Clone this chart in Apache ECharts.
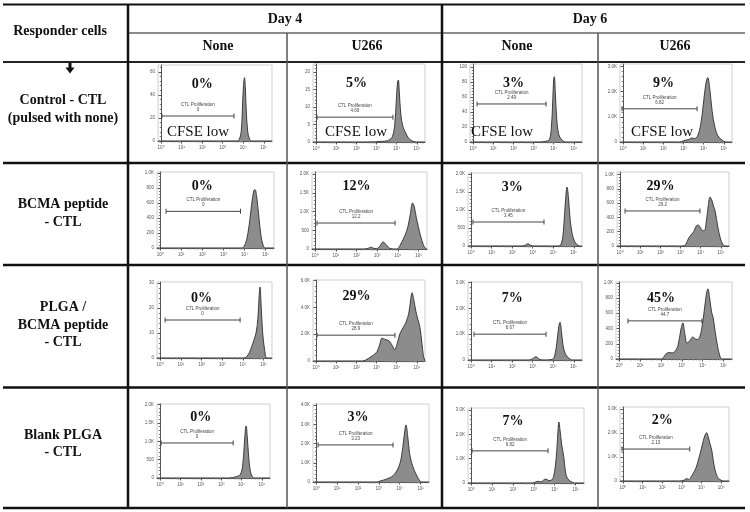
<!DOCTYPE html>
<html><head><meta charset="utf-8">
<script src="https://cdn.jsdelivr.net/npm/echarts@6/dist/echarts.min.js"></script>
<style>html,body{margin:0;padding:0;background:#fff}#c{width:750px;height:512px}</style>
</head><body><div id="c"></div>
<script>
// ---------- DATA ----------
const dayLabels = ['Day 4', 'Day 6'];
const stimLabels = ['None', 'U266', 'None', 'U266'];
const rowLabels = [['Control - CTL', '(pulsed with none)'], ['BCMA peptide', '- CTL'], ['PLGA /', 'BCMA peptide', '- CTL'], ['Blank PLGA', '- CTL']];
const pctLabels = ['0%', '5%', '3%', '9%', '0%', '12%', '3%', '29%', '0%', '29%', '7%', '45%', '0%', '3%', '7%', '2%'];
const gateValues = ['0', '4.69', '2.49', '6.82', '0', '12.2', '3.45', '29.2', '0', '28.9', '6.67', '44.7', '0', '3.23', '6.82', '2.13'];
// gate: [start decade, end decade, count level]
const gateStart = [0.04, 0.05, 0.2, -0.05, 0.28, 0.09, 0.09, 0.25, 0.24, 0.05, 0.14, 0.42, 0.05, 0.09, 0.04, -0.05];
const gateEnd = [3.55, 3.81, 3.62, 3.67, 3.81, 3.86, 3.55, 3.96, 3.86, 3.91, 3.65, 3.96, 3.59, 3.68, 3.68, 3.4];
const gateLevel = [21.7, 7.1, 50.7, 1320, 487, 695, 667, 490, 15.2, 1930, 1000, 500, 956, 1930, 1320, 1330];
// y axis: max and tick values
const yMax = [66, 22.3, 104, 3100, 1010, 2060, 2030, 1035, 30.4, 6050, 3020, 1010, 2020, 4060, 3080, 3080];
const yTicks = [
  [0, 20, 40, 60], [0, 5, 10, 15, 20], [0, 20, 40, 60, 80, 100], [0, 1000, 2000, 3000],
  [0, 200, 400, 600, 800, 1000], [0, 500, 1000, 1500, 2000], [0, 500, 1000, 1500, 2000], [0, 200, 400, 600, 800, 1000],
  [0, 10, 20, 30], [0, 2000, 4000, 6000], [0, 1000, 2000, 3000], [0, 200, 400, 600, 800, 1000],
  [0, 500, 1000, 1500, 2000], [0, 1000, 2000, 3000, 4000], [0, 1000, 2000, 3000], [0, 1000, 2000, 3000]
];
const xTickDecades = [0, 1, 2, 3, 4, 5];
// histograms: [CFSE decade, count]
const h11 = [[-0.15,0],[3.7,0],[3.8,1],[3.9,8],[3.96,28],[4.01,48],[4.06,55],[4.1,47],[4.15,25],[4.22,8],[4.3,2],[4.4,0],[5.4,0]];
const h12 = [[-0.15,0],[2.5,0],[3.3,0.2],[3.6,0.5],[3.78,1.5],[3.9,5],[3.98,12],[4.04,17.2],[4.08,17.7],[4.13,14],[4.2,8],[4.3,4.5],[4.45,2.5],[4.6,1],[4.8,0.2],[5.0,0],[5.4,0]];
const h13 = [[-0.15,0],[3.3,0],[3.6,1],[3.78,3],[3.88,18],[3.95,55],[4.0,85],[4.03,87],[4.08,65],[4.15,30],[4.25,10],[4.4,3],[4.6,0],[5.4,0]];
const h14 = [[-0.15,0],[2.8,0],[3.0,50],[3.25,100],[3.42,160],[3.55,140],[3.7,250],[3.85,700],[3.98,1500],[4.1,2300],[4.2,2560],[4.3,2100],[4.42,1200],[4.55,600],[4.7,250],[4.9,80],[5.1,0],[5.4,0]];
const h21 = [[-0.15,0],[3.85,0],[3.98,20],[4.1,110],[4.22,300],[4.34,580],[4.44,760],[4.5,776],[4.58,680],[4.68,420],[4.78,170],[4.88,40],[4.98,0],[5.4,0]];
const h22 = [[-0.15,0],[2.3,0],[2.55,15],[2.68,50],[2.82,20],[2.95,8],[3.1,60],[3.28,190],[3.45,100],[3.6,20],[3.8,0],[3.95,0],[4.1,100],[4.25,260],[4.35,380],[4.48,600],[4.6,950],[4.7,1230],[4.78,1150],[4.88,850],[4.98,600],[5.1,330],[5.22,120],[5.32,20],[5.4,0]];
const h23 = [[-0.15,0],[2.5,0],[2.65,30],[2.77,60],[2.9,20],[3.05,0],[4.25,0],[4.4,80],[4.5,450],[4.6,1300],[4.67,1640],[4.74,1350],[4.82,750],[4.92,350],[5.02,150],[5.15,40],[5.3,0],[5.4,0]];
const h24 = [[-0.15,0],[3.1,0],[3.25,20],[3.4,110],[3.5,150],[3.65,200],[3.78,280],[3.87,295],[3.98,260],[4.1,215],[4.18,215],[4.28,350],[4.38,580],[4.46,685],[4.55,640],[4.63,560],[4.72,480],[4.85,260],[4.98,100],[5.08,30],[5.2,0],[5.4,0]];
const h31 = [[-0.15,0],[4.05,0],[4.24,1.2],[4.35,3],[4.48,6],[4.63,10],[4.72,16],[4.78,25],[4.82,28.4],[4.87,22],[4.95,10],[5.05,3],[5.15,0],[5.4,0]];
const h32 = [[-0.15,0],[2.3,0],[2.6,200],[2.85,450],[3.02,700],[3.15,1200],[3.27,1700],[3.45,1600],[3.62,1500],[3.78,1150],[3.9,850],[4.02,1300],[4.16,2050],[4.32,2500],[4.46,2900],[4.6,3600],[4.7,4700],[4.76,5100],[4.84,4600],[4.95,3700],[5.05,3100],[5.15,2500],[5.25,1300],[5.32,400],[5.4,0]];
const h33 = [[-0.15,0],[2.8,0],[3.0,50],[3.16,130],[3.3,40],[3.5,0],[3.95,20],[4.08,200],[4.18,700],[4.27,1300],[4.33,1460],[4.4,1100],[4.48,550],[4.6,220],[4.75,80],[4.95,0],[5.4,0]];
const h34 = [[-0.15,0],[2.0,0],[2.12,20],[2.25,70],[2.4,85],[2.55,80],[2.7,110],[2.82,180],[2.95,380],[3.05,474],[3.13,350],[3.25,210],[3.38,240],[3.53,290],[3.63,265],[3.73,255],[3.87,300],[3.98,450],[4.08,650],[4.18,860],[4.25,921],[4.32,820],[4.42,620],[4.5,540],[4.6,350],[4.72,150],[4.82,40],[4.9,0],[5.4,0]];
const h41 = [[-0.15,0],[3.3,0],[3.55,10],[3.75,40],[3.93,90],[4.05,300],[4.13,850],[4.2,1380],[4.23,1420],[4.28,1150],[4.35,600],[4.43,200],[4.52,50],[4.62,0],[5.4,0]];
const h42 = [[-0.15,0],[2.9,0],[3.06,50],[3.38,160],[3.68,330],[3.93,730],[4.08,1300],[4.2,2300],[4.3,2970],[4.38,2400],[4.47,1500],[4.57,1000],[4.7,600],[4.84,280],[4.95,80],[5.05,0],[5.4,0]];
const h43 = [[-0.15,0],[2.9,0],[3.05,30],[3.2,70],[3.35,50],[3.5,140],[3.58,160],[3.72,100],[3.85,120],[3.94,250],[4.03,700],[4.1,1360],[4.16,2200],[4.2,2500],[4.25,2200],[4.33,1600],[4.43,1080],[4.5,550],[4.57,260],[4.7,100],[4.81,50],[4.92,0],[5.4,0]];
const h44 = [[-0.15,0],[2.9,0],[3.1,30],[3.25,100],[3.35,60],[3.45,150],[3.58,320],[3.72,550],[3.84,870],[3.98,1300],[4.1,1700],[4.2,1950],[4.26,2010],[4.34,1850],[4.43,1550],[4.52,1290],[4.6,850],[4.69,460],[4.78,220],[4.86,110],[5.0,30],[5.11,0],[5.4,0]];
const histograms = [h11, h12, h13, h14, h21, h22, h23, h24, h31, h32, h33, h34, h41, h42, h43, h44];

// ---------- LAYOUT ----------
const boxes = [ // [left, right, top, bottom]
  [158,272,65,141],[313,425,64,142],[470,582,64,142],[620,732,64,142],
  [157,274,172,248],[312,427,172,249],[468,582,173,246],[617,729,172,246],
  [157,272,282,358],[313,425,280,361],[468,582,282,360],[616,732,282,359],
  [157,270,404,478],[313,429,404,482],[468,584,408,483],[620,729,407,481]
];
const pctYOff = [19, 14, 16, 13];
const XMIN = -0.15, XMAX = 5.4;
const serif = '"Liberation Serif","Times New Roman",serif';
const sup = ['\u2070','\u00b9','\u00b2','\u00b3','\u2074','\u2075'];

function fmtY(v) { return v >= 1000 ? (v / 1000).toFixed(1) + 'K' : String(v); }
const xMinor = [];
for (let d = -1; d <= 5; d++) for (let k = 2; k <= 9; k++) {
  const v = d + Math.log10(k);
  if (v > XMIN && v < XMAX) xMinor.push(v);
}

const grids = [], xAxes = [], yAxes = [], series = [], graphics = [];
histograms.forEach((h, i) => {
  const [l, r, t, b] = boxes[i];
  grids.push({ left: l, top: t, width: r - l, height: b - t, show: true, borderColor: '#cfcfcf', borderWidth: 1, containLabel: false });
  xAxes.push({
    gridIndex: i, type: 'value', min: XMIN, max: XMAX, position: 'bottom',
    axisLine: { show: true, lineStyle: { color: '#555', width: 1 } },
    axisTick: { show: true, customValues: xTickDecades, length: 2.5, lineStyle: { color: '#555' } },
    axisLabel: { show: true, customValues: xTickDecades, formatter: v => '10' + sup[Math.round(v)], fontSize: 4.5, color: '#555', margin: 4 },
    splitLine: { show: false }
  });
  xAxes.push({
    gridIndex: i, type: 'value', min: XMIN, max: XMAX, position: 'bottom', offset: 0,
    axisLine: { show: false }, axisLabel: { show: false },
    axisTick: { show: true, customValues: xMinor, length: 1.3, lineStyle: { color: '#777' } },
    splitLine: { show: false }
  });
  const tk = yTicks[i];
  const step = tk[1] - tk[0];
  const yMinor = [];
  for (let v = step / 5; v < yMax[i]; v += step / 5) {
    if (Math.abs(v / step - Math.round(v / step)) > 1e-6) yMinor.push(v);
  }
  yAxes.push({
    gridIndex: i, type: 'value', min: 0, max: yMax[i], position: 'left',
    axisLine: { show: true, lineStyle: { color: '#555', width: 1 } },
    axisTick: { show: true, customValues: tk, length: 2.5, lineStyle: { color: '#555' } },
    axisLabel: { show: true, customValues: tk, formatter: fmtY, fontSize: 4.5, color: '#555', margin: 3 },
    splitLine: { show: false }
  });
  yAxes.push({
    gridIndex: i, type: 'value', min: 0, max: yMax[i], position: 'left', offset: 0,
    axisLine: { show: false }, axisLabel: { show: false },
    axisTick: { show: true, customValues: yMinor, length: 1.3, lineStyle: { color: '#777' } },
    splitLine: { show: false }
  });
  series.push({
    type: 'line', xAxisIndex: 2 * i, yAxisIndex: 2 * i, data: h, smooth: 0.35, symbol: 'none',
    lineStyle: { color: '#2e2e2e', width: 0.9 }, areaStyle: { color: '#8c8c8c', opacity: 1 }, silent: true, z: 2
  });
  series.push({
    type: 'line', xAxisIndex: 2 * i, yAxisIndex: 2 * i,
    data: [[gateStart[i], gateLevel[i]], [gateEnd[i], gateLevel[i]]],
    symbol: 'rect', symbolSize: [1, 5], showSymbol: true, showAllSymbol: true,
    lineStyle: { color: '#444', width: 1 }, itemStyle: { color: '#444' }, silent: true, z: 3,
    markPoint: {
      symbol: 'circle', symbolSize: 1, itemStyle: { color: 'rgba(0,0,0,0)' }, silent: true,
      data: [{ coord: [(gateStart[i] + gateEnd[i]) / 2, gateLevel[i]] }],
      label: { show: true, position: 'inside', formatter: 'CTL Proliferation\n' + gateValues[i], fontSize: 4.5, lineHeight: 5, color: '#444', offset: [0, -9], fontFamily: 'Arial, sans-serif' }
    }
  });
  const row = Math.floor(i / 4), col = i % 4;
  graphics.push({ type: 'text', x: l + 0.37 * (r - l) + 2, y: t + pctYOff[row], style: { text: pctLabels[i], font: 'bold 14px ' + serif, fill: '#111', textAlign: 'center', textVerticalAlign: 'middle' }, z: 10 });
  if (row === 0) {
    graphics.push({ type: 'text', x: [198, 356, 502, 662][col], y: 132, style: { text: 'CFSE low', font: '15px ' + serif, fill: '#111', textAlign: 'center', textVerticalAlign: 'middle' }, z: 10 });
  }
});

// table lines
function hl(y, x1, x2, w, c) { graphics.push({ type: 'line', shape: { x1: x1, y1: y, x2: x2, y2: y }, style: { stroke: c, lineWidth: w }, z: 5 }); }
function vl(x, y1, y2, w, c) { graphics.push({ type: 'line', shape: { x1: x, y1: y1, x2: x, y2: y2 }, style: { stroke: c, lineWidth: w }, z: 5 }); }
hl(4.5, 3, 745, 2, '#111');
hl(33, 128, 745, 1.5, '#666');
hl(62, 3, 745, 2, '#222');
hl(163, 3, 745, 2.5, '#111');
hl(265, 3, 745, 2.5, '#111');
hl(387.5, 3, 745, 2.5, '#111');
hl(508, 3, 745, 2.5, '#111');
vl(128, 4, 508, 2.5, '#111');
vl(287, 33, 508, 1.5, '#555');
vl(442, 4, 508, 2.5, '#111');
vl(598, 33, 508, 1.5, '#555');

function txt(s, x, y, size, bold) {
  graphics.push({ type: 'text', x: x, y: y, style: { text: s, font: (bold ? 'bold ' : '') + size + 'px ' + serif, fill: '#111', textAlign: 'center', textVerticalAlign: 'middle' }, z: 10 });
}
txt('Responder cells', 60, 31, 14, true);
txt(dayLabels[0], 285, 19, 14, true);
txt(dayLabels[1], 590, 19, 14, true);
[218, 367, 517, 675].forEach((x, k) => txt(stimLabels[k], x, 46, 14, true));
const rowLineY = [[100, 118], [204, 222], [307, 325, 342], [435, 452]];
rowLabels.forEach((lines, r) => lines.forEach((s, k) => txt(s, 63, rowLineY[r][k], 14, true)));
// arrow
graphics.push({ type: 'polygon', shape: { points: [[68.5, 63], [71.5, 63], [71.5, 67.5], [74.5, 67.5], [70, 73.5], [65.5, 67.5], [68.5, 67.5]] }, style: { fill: '#111' }, z: 10 });

const chart = echarts.init(document.getElementById('c'), null, { renderer: 'canvas', width: 750, height: 512 });
chart.setOption({
  animation: false,
  backgroundColor: '#fff',
  grid: grids, xAxis: xAxes, yAxis: yAxes, series: series, graphic: graphics
});
</script></body></html>
